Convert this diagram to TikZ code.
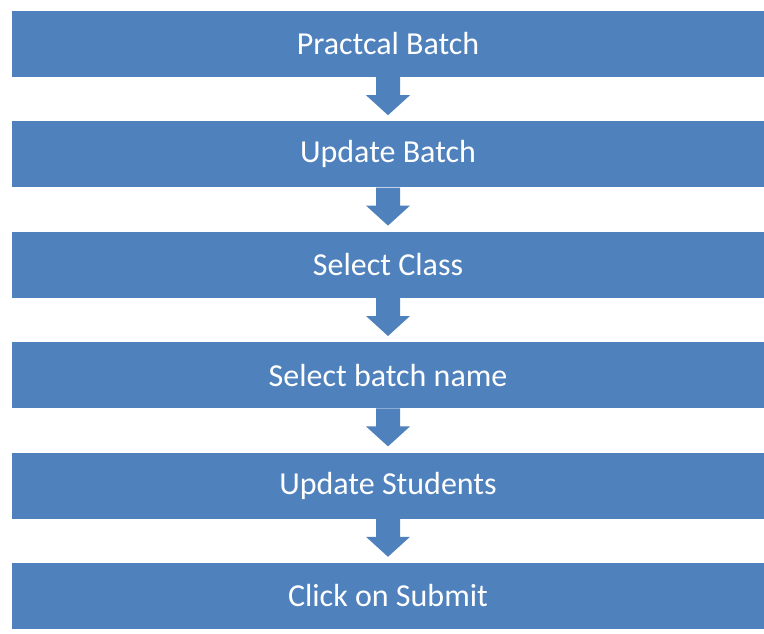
\documentclass[tikz,border=0pt]{standalone}
\usepackage{fontspec}
\setsansfont{Carlito}
\usetikzlibrary{positioning,calc}
\definecolor{stepblue}{RGB}{79,129,189}
\tikzset{
  stepbox/.style={rectangle,fill=stepblue,draw=none,minimum width=752pt,minimum height=66pt,
    inner sep=0pt,text=white,font=\sffamily\fontsize{32}{38}\selectfont},
  blockarr/.style={fill=stepblue,draw=none}
}

\begin{document}
\begin{tikzpicture}[x=1pt,y=-1pt,node distance=44pt]
  \useasboundingbox (0,0) rectangle (764,634);
  \node[stepbox] (s1) at (388,44) {Practcal Batch};
  \node[stepbox, below=of s1] (s2) {Update Batch};
  \node[stepbox, below=of s2] (s3) {Select Class};
  \node[stepbox, below=of s3] (s4) {Select batch name};
  \node[stepbox, below=of s4] (s5) {Update Students};
  \node[stepbox, below=of s5] (s6) {Click on Submit};

  % block arrows between the steps
  \foreach \a/\b in {s1/s2,s2/s3,s3/s4,s4/s5,s5/s6}{
    \fill[blockarr] ($(\a.south)+(-12,0)$) -- ($(\a.south)+(12,0)$) -- ($(\a.south)+(12,18)$)
      -- ($(\a.south)+(22,18)$) -- ($(\b.north)+(0,-6)$) -- ($(\a.south)+(-22,18)$)
      -- ($(\a.south)+(-12,18)$) -- cycle;
  }
\end{tikzpicture}
\end{document}
